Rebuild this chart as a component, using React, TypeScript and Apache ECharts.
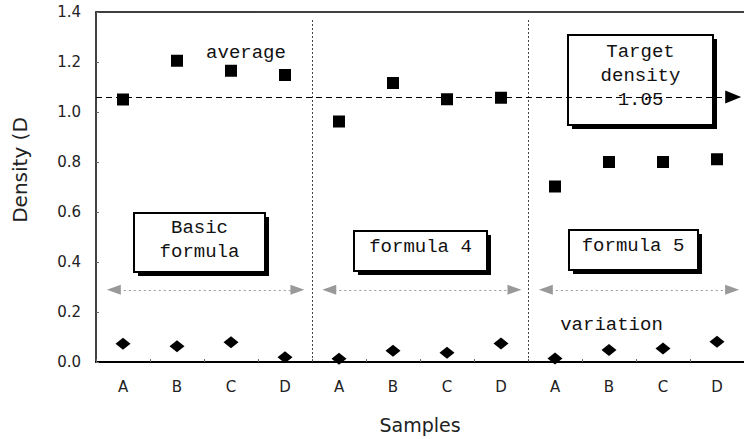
import React, { useEffect, useRef } from "react";
import * as echarts from "echarts";

const categories = ["A", "B", "C", "D", "A", "B", "C", "D", "A", "B", "C", "D"];
const averageValues = [1.05, 1.205, 1.165, 1.148, 0.962, 1.116, 1.051, 1.057, 0.702, 0.8, 0.8, 0.811];
const variationValues = [0.073, 0.063, 0.079, 0.019, 0.013, 0.045, 0.037, 0.074, 0.014, 0.048, 0.054, 0.081];
const targetDensity = 1.06;
const groupSeparators = [3.5, 7.5];
const rangeArrows = [
  [-0.17, 3.23],
  [3.82, 7.25],
  [7.83, 11.28],
];
const arrowLevel = 0.289;
const targetArrowEnd = 11.3;

const MONO = "Liberation Mono";
const SANS = "DejaVu Sans";

function box(x: number, y: number, w: number, h: number) {
  return [
    { type: "rect", z: 1, shape: { x: x + 4, y: y + 4, width: w, height: h }, style: { fill: "#000" } },
    { type: "rect", z: 1, shape: { x, y, width: w, height: h }, style: { fill: "#fff", stroke: "#000", lineWidth: 2 } },
  ];
}

function label(text: string, x: number, y: number) {
  return {
    type: "text",
    z: 3,
    x,
    y,
    style: {
      text,
      fill: "#111",
      font: `19px "${MONO}"`,
      align: "center",
      verticalAlign: "middle",
      lineHeight: 24,
    },
  };
}

export default function App() {
  const ref = useRef<HTMLDivElement>(null);
  useEffect(() => {
    document.body.style.margin = "0";
    const chart = echarts.init(ref.current!, null, { renderer: "svg" });
    chart.setOption({
      animation: false,
      backgroundColor: "#fff",
      grid: { left: 96, top: 12, width: 650, height: 350.5 },
      xAxis: [
        {
          type: "category",
          data: categories,
          boundaryGap: true,
          axisLine: { onZero: false, lineStyle: { color: "#000", width: 2 } },
          axisTick: { show: true, inside: true, length: 3, lineStyle: { color: "#666" } },
          axisLabel: { color: "#222", fontFamily: SANS, fontSize: 15, margin: 17 },
          name: "Samples",
          nameLocation: "middle",
          nameGap: 53,
          nameTextStyle: { color: "#222", fontFamily: SANS, fontSize: 19 },
          splitLine: { show: false },
        },
        {
          type: "value",
          position: "top",
          min: -0.5,
          max: 11.5,
          axisLine: { show: true, onZero: false, lineStyle: { color: "#000", width: 1.5 } },
          axisTick: { show: false },
          axisLabel: { show: false },
          splitLine: { show: false },
        },
      ],
      yAxis: {
        type: "value",
        min: 0,
        max: 1.4,
        interval: 0.2,
        axisLine: { show: true, onZero: false, lineStyle: { color: "#000", width: 1.5 } },
        axisTick: { show: true, inside: true, length: 3, lineStyle: { color: "#666" } },
        axisLabel: {
          color: "#222",
          fontFamily: SANS,
          fontSize: 15,
          margin: 15,
          formatter: (v: number) => v.toFixed(1),
        },
        splitLine: { show: false },
      },
      series: [
        {
          type: "scatter",
          name: "average",
          data: averageValues,
          symbol: "rect",
          symbolSize: 12,
          clip: false,
          z: 4,
          itemStyle: { color: "#000", opacity: 1 },
        },
        {
          type: "scatter",
          name: "variation",
          data: variationValues,
          symbol: "diamond",
          symbolSize: [15, 12],
          clip: false,
          z: 4,
          itemStyle: { color: "#000", opacity: 1 },
        },
        {
          type: "scatter",
          xAxisIndex: 1,
          data: [],
          markLine: {
            silent: true,
            symbol: ["none", "none"],
            label: { show: false },
            lineStyle: { color: "#444", type: [2, 2], width: 1 },
            data: groupSeparators.map((s) => [{ coord: [s, 0] }, { coord: [s, 1.37] }]),
          },
        },
        {
          type: "scatter",
          xAxisIndex: 1,
          data: [],
          markLine: {
            silent: true,
            symbol: ["triangle", "triangle"],
            symbolSize: [10, 14],
            label: { show: false },
            lineStyle: { color: "#999", type: [2, 3], width: 1 },
            itemStyle: { color: "#999" },
            data: rangeArrows.map(([a, b]) => [{ coord: [a, arrowLevel] }, { coord: [b, arrowLevel] }]),
          },
        },
        {
          type: "scatter",
          xAxisIndex: 1,
          data: [],
          z: 5,
          markLine: {
            silent: true,
            z: 5,
            symbol: ["none", "triangle"],
            symbolSize: [13, 16],
            label: { show: false },
            lineStyle: { color: "#000", type: [6, 4], width: 1.2 },
            itemStyle: { color: "#000" },
            data: [[{ coord: [-0.5, targetDensity] }, { coord: [targetArrowEnd, targetDensity] }]],
          },
        },
      ],
      graphic: [
        ...box(134, 213, 131, 59),
        ...box(354, 231, 133, 40),
        ...box(569, 230, 129, 40),
        ...box(568, 35, 145, 90),
        label("Basic\nformula", 199.5, 240),
        label("formula 4", 420.5, 247),
        label("formula 5", 633, 246),
        label("Target\ndensity\n1.05", 640.5, 76),
        label("average", 246, 53),
        label("variation", 611.5, 325),
        {
          type: "text",
          z: 3,
          x: 20,
          y: 170,
          rotation: Math.PI / 2,
          style: {
            text: "Density (D",
            fill: "#222",
            font: `20px "${SANS}"`,
            align: "center",
            verticalAlign: "middle",
          },
        },
      ],
    });
    return () => chart.dispose();
  }, []);
  return <div ref={ref} style={{ width: 744, height: 439 }} />;
}
